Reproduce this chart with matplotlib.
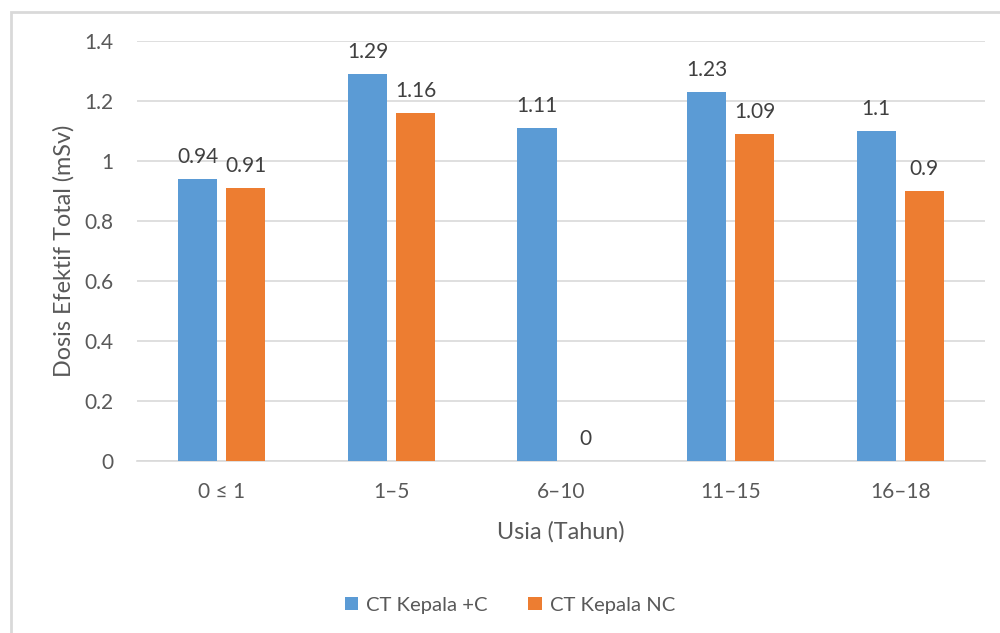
import numpy as np
import matplotlib.pyplot as plt
from matplotlib.patches import Rectangle

categories = ['0 ≤ 1', '1–5', '6–10', '11–15', '16–18']
kepala_c = [0.94, 1.29, 1.11, 1.23, 1.1]
kepala_nc = [0.91, 1.16, 0, 1.09, 0.9]
series_names = ['CT Kepala +C', 'CT Kepala NC']

plt.rcParams['font.family'] = ['Lato', 'DejaVu Sans']
txt = '#595959'

fig = plt.figure(figsize=(10, 6.33), dpi=100)
ax = fig.add_axes([0.137, 0.2717, 0.848, 0.6635])

x = np.arange(len(categories))
w = 0.23
off = 0.1415
b1 = ax.bar(x - off, kepala_c, w, color='#5B9BD5', label=series_names[0], zorder=3)
b2 = ax.bar(x + off, kepala_nc, w, color='#ED7D31', label=series_names[1], zorder=3)

for bars, vals in [(b1, kepala_c), (b2, kepala_nc)]:
    for rect, v in zip(bars, vals):
        ax.annotate(f'{v:g}', (rect.get_x() + rect.get_width() / 2, v),
                    xytext=(0, 9), textcoords='offset points',
                    ha='center', va='bottom', fontsize=15, color='#404040')

ax.set_xlim(-0.5, len(categories) - 0.5)
ax.set_ylim(0, 1.4)
ax.set_yticks(np.arange(0, 1.41, 0.2))
ax.set_yticklabels(['0', '0.2', '0.4', '0.6', '0.8', '1', '1.2', '1.4'])
ax.set_xticks(x)
ax.set_xticklabels(categories)
ax.tick_params(length=0, labelsize=15, labelcolor=txt)
ax.tick_params(axis='x', pad=15)
ax.tick_params(axis='y', pad=17)
ax.yaxis.grid(True, color='#D9D9D9', linewidth=1.2, zorder=0)
for s in ['top', 'right', 'left']:
    ax.spines[s].set_visible(False)
ax.spines['bottom'].set_color('#D9D9D9')
ax.spines['bottom'].set_linewidth(1.2)

ax.set_xlabel('Usia (Tahun)', fontsize=16.8, color=txt, labelpad=14)
ax.set_ylabel('Dosis Efektif Total (mSv)', fontsize=16.8, color=txt, labelpad=7)

ax.legend(loc='center', bbox_to_anchor=(0.51, 0.044), bbox_transform=fig.transFigure,
          ncol=2, frameon=False, fontsize=14.6, labelcolor=txt,
          handlelength=0.65, handleheight=0.65, handletextpad=0.4, columnspacing=2.0)

# chart area border (only top and left edges visible)
fig.patches.append(Rectangle((0.0105, -0.1), 1.2, 1.081, transform=fig.transFigure,
                             fill=False, edgecolor='#D9D9D9', linewidth=2))

fig.savefig('out.png', dpi=100)
